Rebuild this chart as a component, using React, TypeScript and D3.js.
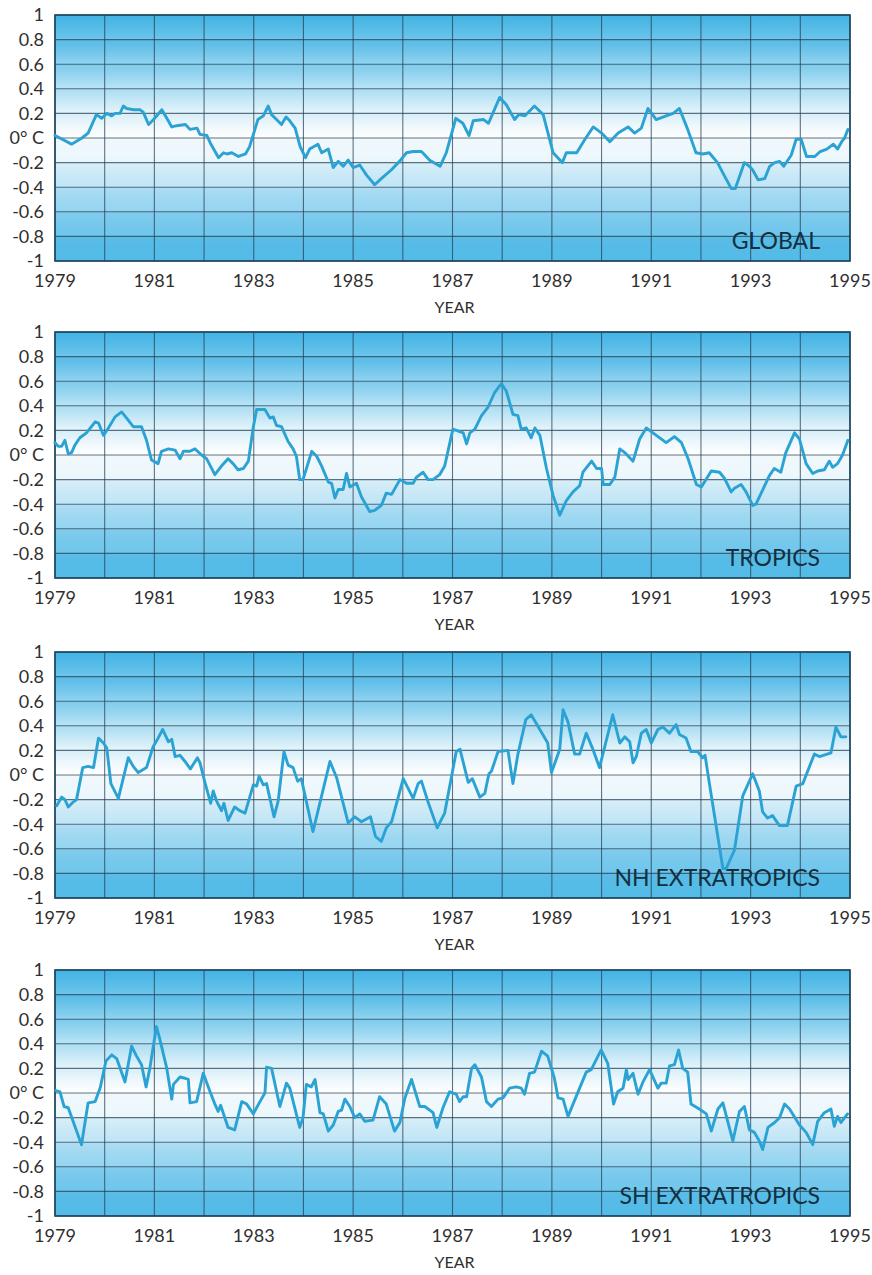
import React from 'react';
import * as d3 from 'd3';

// ---- data ----
const gridYears = d3.range(1979, 1996);
const labelYears = [1979, 1981, 1983, 1985, 1987, 1989, 1991, 1993, 1995];
const yTicks = [1, 0.8, 0.6, 0.4, 0.2, 0, -0.2, -0.4, -0.6, -0.8, -1];
const yTickLabels = ['1', '0.8', '0.6', '0.4', '0.2', '0° C', '-0.2', '-0.4', '-0.6', '-0.8', '-1'];
const panelNames = ['GLOBAL', 'TROPICS', 'NH EXTRATROPICS', 'SH EXTRATROPICS'];
const xAxisTitle = 'YEAR';

// [months since Jan 1979, anomaly °C]
const globalSeries: [number, number][] = [
  [0, 0.02], [4, -0.05], [6.5, 0.0], [8, 0.04], [10, 0.19], [11.3, 0.16], [12.5, 0.2], [13.7, 0.18], [14.5, 0.2],
  [15.7, 0.2], [16.5, 0.26], [17.3, 0.24], [19, 0.23], [20.5, 0.23], [21.3, 0.21], [22.6, 0.11], [23.8, 0.15],
  [25.8, 0.23], [27, 0.16], [28.2, 0.09], [29.4, 0.1], [31.5, 0.11], [32.6, 0.07], [34.3, 0.08], [35, 0.03],
  [36.7, 0.02], [37.5, -0.04], [39.5, -0.16], [40.7, -0.12], [41.5, -0.13], [42.7, -0.12], [44.3, -0.15],
  [46, -0.13], [47, -0.07], [49, 0.15], [50.3, 0.18], [51.5, 0.26], [52.3, 0.19], [53.5, 0.15], [54.7, 0.11],
  [55.8, 0.17], [56.7, 0.14], [58, 0.08], [59.2, -0.07], [60.5, -0.16], [61.5, -0.09], [63.5, -0.05],
  [64.4, -0.12], [66, -0.09], [67.2, -0.24], [68.4, -0.19], [69.6, -0.23], [70.8, -0.18], [72, -0.24],
  [73.6, -0.22], [75.2, -0.3], [77.2, -0.38], [78.8, -0.33], [81.2, -0.26], [83.2, -0.19], [84.9, -0.12],
  [86.5, -0.11], [88.5, -0.11], [90.5, -0.18], [93, -0.23], [94.5, -0.12], [96.8, 0.16], [98.5, 0.12],
  [100, 0.02], [101, 0.14], [103.5, 0.15], [104.7, 0.12], [107.4, 0.33], [109, 0.27], [111, 0.15], [112, 0.19],
  [113.5, 0.18], [115.8, 0.26], [117.9, 0.19], [120.3, -0.12], [122.5, -0.2], [123.5, -0.12], [126, -0.12],
  [128, -0.01], [130, 0.09], [132, 0.04], [134, -0.03], [136, 0.04], [138.4, 0.09], [140, 0.04], [141.6, 0.08],
  [143.2, 0.24], [145.2, 0.15], [147.6, 0.18], [149.3, 0.2], [150.8, 0.24], [152.8, 0.07], [154.8, -0.12],
  [156.5, -0.13], [158, -0.12], [160, -0.2], [161.7, -0.31], [163.3, -0.41], [164.3, -0.41], [166.5, -0.2],
  [167.7, -0.23], [168.5, -0.26], [169.8, -0.34], [171.4, -0.33], [172.6, -0.23], [173.8, -0.2], [175, -0.19],
  [176, -0.23], [177.8, -0.14], [179, -0.01], [180.2, -0.01], [181.5, -0.15], [183.5, -0.15], [184.8, -0.11],
  [186.4, -0.09], [188, -0.05], [189, -0.09], [190, -0.03], [190.7, 0.0], [191.5, 0.07],
];

const tropicsSeries: [number, number][] = [
  [0, 0.1], [0.8, 0.07], [1.6, 0.07], [2.4, 0.12], [3.2, 0.01], [4, 0.02], [4.8, 0.08], [6, 0.14], [7.6, 0.18],
  [9.7, 0.27], [10.5, 0.26], [11.7, 0.16], [12.9, 0.22], [14.5, 0.31], [16.1, 0.35], [17.3, 0.3], [18.9, 0.23],
  [20.9, 0.23], [22.1, 0.12], [23.3, -0.04], [24.9, -0.07], [25.7, 0.03], [27.4, 0.05], [29, 0.04], [30.2, -0.03],
  [31, 0.03], [32.6, 0.03], [33.8, 0.05], [35.4, 0.0], [36.6, -0.03], [38.6, -0.16], [40.2, -0.09], [41.8, -0.03],
  [43, -0.07], [44.2, -0.12], [45.5, -0.11], [46.7, -0.05], [47.9, 0.23], [48.7, 0.37], [50.7, 0.37], [51.9, 0.3],
  [52.7, 0.31], [53.5, 0.24], [54.7, 0.23], [56.3, 0.11], [57.5, 0.05], [58.3, -0.01], [59.1, -0.2], [59.9, -0.2],
  [62, 0.03], [63.2, -0.01], [64.4, -0.09], [66, -0.22], [66.8, -0.23], [67.6, -0.35], [68.4, -0.28],
  [69.6, -0.28], [70.4, -0.15], [71.2, -0.26], [72.8, -0.23], [74, -0.34], [76, -0.46], [77.2, -0.45],
  [78.8, -0.41], [80, -0.31], [81.3, -0.32], [83.3, -0.2], [84.9, -0.23], [86.5, -0.23], [87.3, -0.18],
  [88.9, -0.14], [90.1, -0.2], [91.3, -0.2], [92.9, -0.16], [94.1, -0.09], [96.1, 0.21], [98.6, 0.18],
  [99.4, 0.09], [100.2, 0.18], [101.4, 0.21], [103, 0.32], [104.6, 0.39], [106.2, 0.51], [107.8, 0.58],
  [109, 0.52], [110.6, 0.33], [111.8, 0.32], [112.6, 0.21], [113.8, 0.22], [115, 0.14], [115.9, 0.22],
  [117.1, 0.16], [118.7, -0.11], [120.3, -0.33], [121.9, -0.49], [123.5, -0.37], [125.1, -0.3], [126.7, -0.25],
  [127.5, -0.14], [129.6, -0.05], [130.8, -0.11], [132, -0.11], [132.4, -0.24], [134, -0.24], [135.2, -0.18],
  [136.4, 0.05], [137.6, 0.02], [139.6, -0.05], [141.2, 0.13], [142.8, 0.22], [144.4, 0.18], [147.6, 0.1],
  [149.6, 0.15], [151.3, 0.1], [152.9, -0.03], [154.9, -0.24], [156.1, -0.26], [158.5, -0.13], [160.5, -0.14],
  [161.7, -0.19], [163.3, -0.3], [164.1, -0.27], [165.7, -0.24], [166.9, -0.3], [168.5, -0.41], [169.3, -0.4],
  [172.5, -0.17], [173.7, -0.11], [175.3, -0.14], [176.5, 0.02], [178.6, 0.18], [179.8, 0.13], [181.4, -0.07],
  [183, -0.15], [184.2, -0.13], [185.8, -0.12], [187, -0.05], [187.8, -0.1], [189, -0.07], [190.2, 0.0],
  [191.5, 0.12],
];

const nhSeries: [number, number][] = [
  [0.4, -0.25], [1.6, -0.18], [2.4, -0.2], [3.2, -0.26], [4.4, -0.22], [5.2, -0.2], [6.7, 0.06], [8, 0.07],
  [9.3, 0.06], [10.5, 0.3], [11.7, 0.26], [12.5, 0.22], [13.5, -0.07], [15.3, -0.19], [17.7, 0.14], [18.9, 0.07],
  [20.1, 0.02], [22.1, 0.06], [23.7, 0.23], [24.9, 0.3], [26, 0.37], [27.4, 0.27], [28.2, 0.29], [29, 0.15],
  [30.2, 0.16], [31.4, 0.11], [32.7, 0.05], [34.4, 0.14], [35, 0.1], [36.2, -0.06], [37.6, -0.23], [38.2, -0.13],
  [39, -0.21], [40.2, -0.29], [40.8, -0.23], [41.8, -0.37], [43.4, -0.26], [44.6, -0.29], [45.9, -0.31],
  [47.9, -0.08], [48.7, -0.09], [49.3, -0.01], [50.3, -0.08], [51.1, -0.07], [52.9, -0.34], [53.9, -0.21],
  [55.3, 0.19], [56.3, 0.08], [57.5, 0.06], [58.6, -0.05], [59.5, -0.03], [62.3, -0.46], [66.4, 0.11],
  [68, -0.02], [70.8, -0.39], [72.4, -0.34], [74, -0.38], [76.2, -0.34], [77.4, -0.5], [78.8, -0.54],
  [80, -0.43], [81.3, -0.38], [84.1, -0.03], [86.5, -0.19], [87.7, -0.07], [88.5, -0.05], [90.1, -0.22],
  [92.3, -0.43], [94.1, -0.31], [96.9, 0.19], [97.8, 0.21], [99.8, -0.06], [100.8, -0.03], [102.6, -0.18],
  [103.8, -0.15], [104.8, 0.01], [105.4, 0.03], [107, 0.19], [109.4, 0.2], [110.6, -0.07], [111.8, 0.17],
  [113.7, 0.45], [115, 0.49], [119, 0.26], [119.9, 0.02], [121.5, 0.17], [121.9, 0.21], [122.7, 0.53],
  [123.9, 0.43], [125.5, 0.17], [126.7, 0.17], [128.3, 0.34], [129.9, 0.21], [131.5, 0.06], [134.7, 0.49],
  [136.4, 0.26], [137.6, 0.31], [138.8, 0.27], [139.6, 0.1], [140.4, 0.15], [141.6, 0.34], [142.8, 0.37],
  [144, 0.26], [145.6, 0.37], [146.8, 0.39], [148.4, 0.34], [150, 0.41], [150.8, 0.33], [152.4, 0.3],
  [153.6, 0.19], [155.2, 0.19], [156.4, 0.14], [157, 0.16], [158, -0.06], [161.3, -0.76], [162.1, -0.76],
  [164.1, -0.61], [166.1, -0.17], [168.5, 0.01], [170.1, -0.13], [170.9, -0.3], [172.1, -0.35], [173.3, -0.33],
  [174.9, -0.41], [176.9, -0.41], [179, -0.09], [180.6, -0.07], [183.4, 0.17], [184.6, 0.15], [187.4, 0.18],
  [188.6, 0.39], [189.8, 0.31], [191, 0.31],
];

const shSeries: [number, number][] = [
  [0.2, 0.02], [1.2, 0.01], [2.2, -0.11], [3.2, -0.12], [6.4, -0.42], [8, -0.08], [9.7, -0.07], [10.9, 0.04],
  [12.3, 0.26], [13.7, 0.31], [14.9, 0.28], [16.9, 0.09], [18.5, 0.38], [19.7, 0.3], [20.9, 0.23], [22, 0.05],
  [22.9, 0.2], [24.5, 0.54], [25.3, 0.44], [27, 0.2], [28.2, -0.05], [28.6, 0.07], [30.2, 0.13], [31.4, 0.12],
  [32.2, 0.11], [32.6, -0.08], [34.2, -0.07], [35.8, 0.16], [37, 0.05], [38.6, -0.09], [39.4, -0.15],
  [40, -0.1], [41.8, -0.28], [43.4, -0.3], [45.1, -0.07], [46.3, -0.09], [47.9, -0.17], [49.5, -0.07],
  [50.7, 0.0], [51.1, 0.21], [52.3, 0.2], [54.3, -0.11], [55.9, 0.08], [56.7, 0.04], [59.1, -0.28],
  [59.9, -0.2], [60.7, 0.07], [61.9, 0.05], [62.8, 0.11], [64, -0.16], [64.8, -0.17], [66, -0.31],
  [67.2, -0.26], [68.4, -0.15], [69.2, -0.14], [70, -0.05], [71.2, -0.11], [72.4, -0.2], [73.6, -0.17],
  [74.8, -0.23], [76.8, -0.22], [78.4, -0.03], [80, -0.09], [82, -0.31], [83.3, -0.24], [84.5, -0.04],
  [86.1, 0.11], [88.1, -0.11], [89.3, -0.11], [91.3, -0.16], [92.2, -0.28], [93.7, -0.12], [95.3, 0.01],
  [96.9, -0.01], [97.7, -0.07], [98.6, -0.03], [99.4, -0.03], [100.6, 0.2], [101.4, 0.23], [103, 0.13],
  [104.2, -0.07], [105.4, -0.11], [107, -0.05], [108.2, -0.04], [109.8, 0.04], [111.4, 0.05], [112.6, 0.04],
  [113.4, -0.01], [114.6, 0.16], [115.8, 0.17], [117.5, 0.34], [119, 0.3], [120.6, 0.12], [121.5, -0.04],
  [122.7, -0.05], [123.9, -0.19], [126.7, 0.04], [128.3, 0.17], [129.5, 0.19], [131.9, 0.35], [133.5, 0.24],
  [134.9, -0.09], [135.9, 0.01], [137.2, 0.04], [138, 0.19], [138.4, 0.11], [139.6, 0.16], [140.8, -0.01],
  [142, 0.09], [143.6, 0.19], [145.6, 0.04], [146.4, 0.08], [147.6, 0.08], [148.4, 0.22], [149.6, 0.23],
  [150.6, 0.35], [151.6, 0.2], [152.8, 0.17], [153.6, -0.09], [155.6, -0.13], [157.3, -0.17], [158.5, -0.31],
  [160.1, -0.13], [161.3, -0.08], [163.7, -0.39], [165.3, -0.15], [166.5, -0.11], [167.7, -0.3], [168.9, -0.32],
  [170.1, -0.39], [170.9, -0.46], [172.2, -0.28], [173.8, -0.24], [175, -0.2], [176.2, -0.09], [177.4, -0.13],
  [179.8, -0.26], [181.4, -0.32], [183, -0.42], [184.2, -0.23], [185.8, -0.16], [187.4, -0.13], [188.2, -0.27],
  [189, -0.19], [189.8, -0.24], [191.4, -0.17],
];

const allSeries = [globalSeries, tropicsSeries, nhSeries, shSeries];

// ---- layout ----
const W = 872;
const H = 1275;
const LEFT = 55;
const RIGHT = 850;
const PH = 246;
const TOPS = [15, 332, 652, 970];
const FONT = 'Lato, "Open Sans", sans-serif';

export default function App() {
  const x = d3.scaleLinear().domain([1979, 1995]).range([LEFT, RIGHT]);
  const y = d3.scaleLinear().domain([1, -1]).range([0, PH]);
  const line = d3
    .line<[number, number]>()
    .x((d) => x(1979 + d[0] / 12))
    .y((d) => y(d[1]))
    .curve(d3.curveLinear);

  return (
    <svg
      width={W}
      height={H}
      style={{ position: 'absolute', left: 0, top: 0, background: '#ffffff' }}
      fontFamily={FONT}
    >
      <defs>
        <linearGradient id="bg" x1="0" y1="0" x2="0" y2="1">
          <stop offset="0" stopColor="#45b6e6" />
          <stop offset="0.12" stopColor="#62c1ea" />
          <stop offset="0.25" stopColor="#9ad8f2" />
          <stop offset="0.36" stopColor="#d2eef9" />
          <stop offset="0.45" stopColor="#f7fcfe" />
          <stop offset="0.5" stopColor="#ffffff" />
          <stop offset="0.57" stopColor="#f3fbfe" />
          <stop offset="0.66" stopColor="#cbeaf8" />
          <stop offset="0.78" stopColor="#92d4f1" />
          <stop offset="0.9" stopColor="#5fc0ea" />
          <stop offset="1" stopColor="#42b4e5" />
        </linearGradient>
        <linearGradient id="band" x1="0" y1="0" x2="0" y2="1">
          <stop offset="0" stopColor="#1a8cc4" stopOpacity="0.06" />
          <stop offset="1" stopColor="#ffffff" stopOpacity="0.1" />
        </linearGradient>
      </defs>
      {TOPS.map((top, pi) => (
        <g key={pi} transform={`translate(0,${top})`}>
          <rect x={LEFT} y={0} width={RIGHT - LEFT} height={PH} fill="url(#bg)" />
          {yTicks.slice(0, -1).map((t, i) => (
            <rect
              key={'b' + i}
              x={LEFT}
              y={y(t)}
              width={RIGHT - LEFT}
              height={y(yTicks[i + 1]) - y(t)}
              fill="url(#band)"
            />
          ))}
          {yTicks.map((t) => (
            <line
              key={'h' + t}
              x1={LEFT}
              x2={RIGHT}
              y1={y(t)}
              y2={y(t)}
              stroke="#253f52"
              strokeOpacity={0.72}
              strokeWidth={1.1}
            />
          ))}
          {gridYears.map((yr) => (
            <line
              key={'v' + yr}
              x1={x(yr)}
              x2={x(yr)}
              y1={0}
              y2={PH}
              stroke="#253f52"
              strokeOpacity={0.72}
              strokeWidth={1.1}
            />
          ))}
          <rect
            x={LEFT}
            y={0}
            width={RIGHT - LEFT}
            height={PH}
            fill="none"
            stroke="#1b4660"
            strokeWidth={1.6}
          />
          <text
            x={RIGHT - 30}
            y={PH - 12}
            textAnchor="end"
            fontSize={23}
            fill="#12303f"
          >
            {panelNames[pi]}
          </text>
          <path
            d={line(allSeries[pi]) || ''}
            fill="none"
            stroke="#2ba2d4"
            strokeWidth={2.9}
            strokeLinejoin="round"
            strokeLinecap="round"
          />
          {yTicks.map((t, i) => (
            <text
              key={'yl' + t}
              x={44}
              y={y(t)}
              dy="0.35em"
              textAnchor="end"
              fontSize={18}
              fill="#2f2f2f"
            >
              {yTickLabels[i]}
            </text>
          ))}
          {labelYears.map((yr) => (
            <text
              key={'xl' + yr}
              x={x(yr)}
              y={PH + 26}
              textAnchor="middle"
              fontSize={18}
              fill="#2f2f2f"
            >
              {yr}
            </text>
          ))}
          <text
            x={(LEFT + RIGHT) / 2 + 2}
            y={PH + 52}
            textAnchor="middle"
            fontSize={16}
            fill="#2f2f2f"
          >
            {xAxisTitle}
          </text>
        </g>
      ))}
    </svg>
  );
}
